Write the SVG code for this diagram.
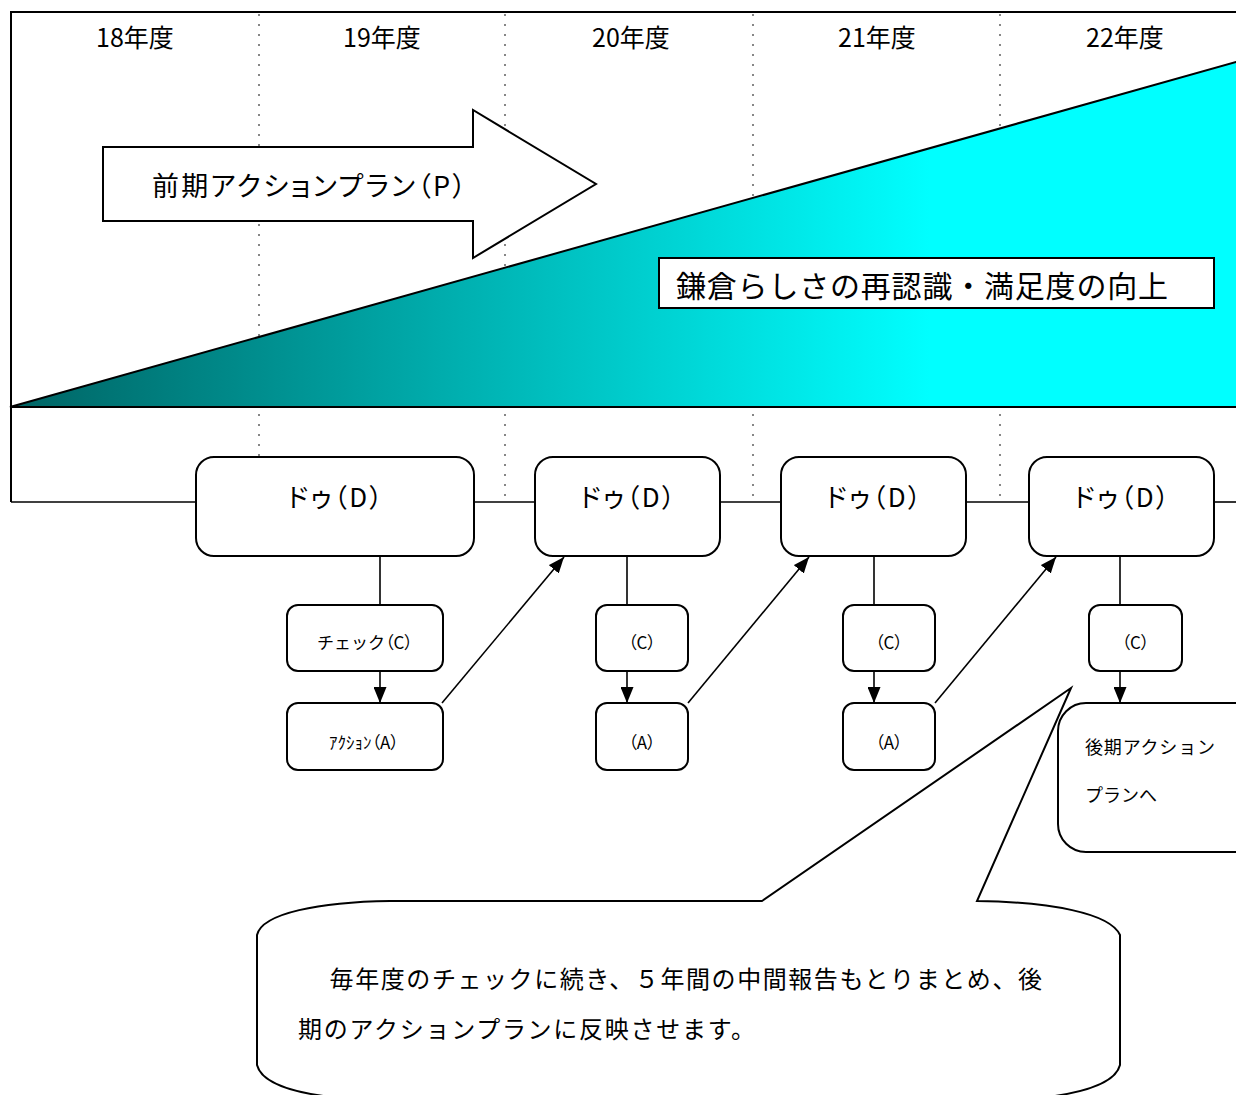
<svg xmlns="http://www.w3.org/2000/svg" width="1236" height="1095" viewBox="0 0 1236 1095">
<defs>
  <style>
    .frame{stroke:#000;stroke-width:2;fill:none}
    .dot{stroke:#7a7a7a;stroke-width:1.8;stroke-dasharray:2 8;fill:none}
    .box{fill:#fff;stroke:#000;stroke-width:2}
    .con{stroke:#000;stroke-width:1.6;fill:none}
    .g{font-family:"Noto Sans CJK JP","Liberation Sans",sans-serif;fill:#000}
    .p{font-feature-settings:"palt"}
    .m{font-family:"Noto Sans CJK JP","Liberation Serif",serif;fill:#000}
    .yr{font-size:25px;text-anchor:middle}
    .dl{font-size:26px;text-anchor:middle}
    .sl{font-size:17px;text-anchor:middle}
  </style>
  <linearGradient id="teal" gradientUnits="userSpaceOnUse" x1="10" y1="0" x2="930" y2="0">
    <stop offset="0" stop-color="#006464"/>
    <stop offset="1" stop-color="#00ffff"/>
  </linearGradient>
  <marker id="ah" markerUnits="userSpaceOnUse" viewBox="0 0 16 13" markerWidth="16" markerHeight="13" refX="16" refY="6.5" orient="auto">
    <path d="M0,0 L16,6.5 L0,13 Z" fill="#000"/>
  </marker>
</defs>
<rect x="0" y="0" width="1236" height="1095" fill="#fff"/>

<g id="grid">
  <line class="dot" x1="259" y1="14" x2="259" y2="496"/>
  <line class="dot" x1="505" y1="14" x2="505" y2="496"/>
  <line class="dot" x1="753" y1="14" x2="753" y2="496"/>
  <line class="dot" x1="1000" y1="14" x2="1000" y2="496"/>
  <path class="frame" d="M11,502 L11,12 L1236,12"/>
</g>

<g id="growth">
  <polygon points="10,407 1236,62 1237,62 1237,407" fill="url(#teal)" stroke="#000" stroke-width="2"/>
  <rect class="box" x="659" y="258" width="555" height="50"/>
  <text class="m" x="676" y="297" font-size="30" textLength="492">鎌倉らしさの再認識・満足度の向上</text>
</g>

<g id="plan-arrow">
  <polygon class="box" points="103,147 473,147 473,110 596,184 473,258 473,221 103,221"/>
  <text class="g p" x="152" y="196" font-size="27" textLength="314">前期アクションプラン（P）</text>
</g>

<g id="year-labels">
  <text class="g yr" x="135" y="47">18年度</text>
  <text class="g yr" x="382" y="47">19年度</text>
  <text class="g yr" x="631" y="47">20年度</text>
  <text class="g yr" x="877" y="47">21年度</text>
  <text class="g yr" x="1125" y="47">22年度</text>
</g>

<g id="connectors">
  <line class="con" x1="11" y1="502" x2="196" y2="502"/>
  <line class="con" x1="474" y1="502" x2="535" y2="502"/>
  <line class="con" x1="720" y1="502" x2="781" y2="502"/>
  <line class="con" x1="966" y1="502" x2="1029" y2="502"/>
  <line class="con" x1="1214" y1="502" x2="1236" y2="502"/>
  <line class="con" x1="380" y1="556" x2="380" y2="605"/>
  <line class="con" x1="627" y1="556" x2="627" y2="605"/>
  <line class="con" x1="874" y1="556" x2="874" y2="605"/>
  <line class="con" x1="1120" y1="556" x2="1120" y2="605"/>
  <line class="con" x1="380" y1="671" x2="380" y2="703" marker-end="url(#ah)"/>
  <line class="con" x1="627" y1="671" x2="627" y2="703" marker-end="url(#ah)"/>
  <line class="con" x1="874" y1="671" x2="874" y2="703" marker-end="url(#ah)"/>
  <line class="con" x1="1120" y1="671" x2="1120" y2="703" marker-end="url(#ah)"/>
  <line class="con" x1="442" y1="703" x2="564" y2="557" marker-end="url(#ah)"/>
  <line class="con" x1="688" y1="703" x2="809" y2="557" marker-end="url(#ah)"/>
  <line class="con" x1="935" y1="703" x2="1056" y2="557" marker-end="url(#ah)"/>
</g>

<g id="do-1">
  <rect class="box" x="196" y="457" width="278" height="99" rx="18"/>
  <text class="g p dl" x="335" y="507" textLength="95">ドゥ（D）</text>
</g>
<g id="do-2">
  <rect class="box" x="535" y="457" width="185" height="99" rx="18"/>
  <text class="g p dl" x="627.5" y="507" textLength="95">ドゥ（D）</text>
</g>
<g id="do-3">
  <rect class="box" x="781" y="457" width="185" height="99" rx="18"/>
  <text class="g p dl" x="873.5" y="507" textLength="95">ドゥ（D）</text>
</g>
<g id="do-4">
  <rect class="box" x="1029" y="457" width="185" height="99" rx="18"/>
  <text class="g p dl" x="1121.5" y="507" textLength="95">ドゥ（D）</text>
</g>

<g id="check-1">
  <rect class="box" x="287" y="605" width="156" height="66" rx="11"/>
  <text class="g sl" x="365" y="649" font-size="16">チェック<tspan class="p">（C）</tspan></text>
</g>
<g id="check-2">
  <rect class="box" x="596" y="605" width="92" height="66" rx="11"/>
  <text class="g p sl" x="642" y="649">（C）</text>
</g>
<g id="check-3">
  <rect class="box" x="843" y="605" width="92" height="66" rx="11"/>
  <text class="g p sl" x="889" y="649">（C）</text>
</g>
<g id="check-4">
  <rect class="box" x="1089" y="605" width="93" height="66" rx="11"/>
  <text class="g p sl" x="1135.5" y="649">（C）</text>
</g>

<g id="action-1">
  <rect class="box" x="287" y="703" width="156" height="67" rx="11"/>
  <text class="g sl" x="364" y="749">ｱｸｼｮﾝ<tspan class="p">（A）</tspan></text>
</g>
<g id="action-2">
  <rect class="box" x="596" y="703" width="92" height="67" rx="11"/>
  <text class="g p sl" x="642" y="749">（A）</text>
</g>
<g id="action-3">
  <rect class="box" x="843" y="703" width="92" height="67" rx="11"/>
  <text class="g p sl" x="889" y="749">（A）</text>
</g>

<g id="next-plan">
  <rect class="box" x="1058" y="703" width="240" height="149" rx="28"/>
  <text class="g" x="1085" y="754" font-size="18" textLength="130">後期アクション</text>
  <text class="g" x="1085" y="802" font-size="18" textLength="72">プランへ</text>
</g>

<g id="callout">
  <path class="box" d="M762,901 L1071,688 L977,901 C1050,902 1110,913 1120,935 L1120,1065 C1115,1085 1075,1094 1040,1098 L340,1098 C300,1094 262,1085 257,1065 L257,935 C262,913 320,902 390,901 Z"/>
  <text class="m" x="304" y="988" font-size="24" textLength="738">　毎年度のチェックに続き、５年間の中間報告もとりまとめ、後</text>
  <text class="m" x="298" y="1038" font-size="24" textLength="457">期のアクションプランに反映させます。</text>
</g>
</svg>
